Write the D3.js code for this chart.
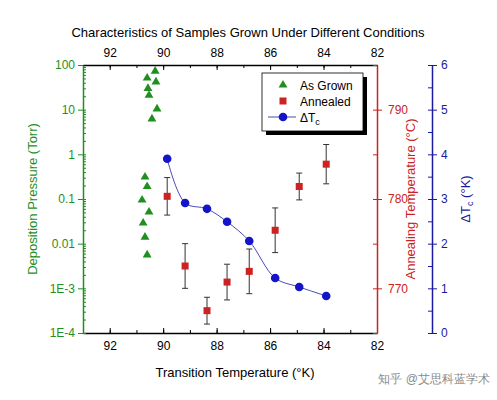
<!DOCTYPE html>
<html><head><meta charset="utf-8">
<script src="https://cdn.jsdelivr.net/npm/d3@7"></script>
<style>body{margin:0;background:#fff}text{font-family:Arial,"Liberation Sans",sans-serif}</style>
</head><body><svg id="c" width="497" height="400"></svg>
<script>
const grownT=[90.30,90.60,90.27,90.57,90.53,90.23,90.42,90.68,90.60,90.79,90.53,90.75,90.68,90.60];
const grownP=[73,51,42,30,21,10.4,6.2,0.31,0.19,0.095,0.051,0.029,0.014,0.0056];
const annT=[89.85,89.18,88.36,87.61,86.78,85.81,84.91,83.90];
const annV=[780.3,772.5,767.5,770.7,771.9,776.5,781.4,783.9];
const annErr=[2.1,2.5,1.5,2.0,2.5,2.5,1.5,2.2];
const dT=[3.90,2.91,2.78,2.49,2.06,1.23,1.03,0.83];
const xTicks=[92,90,88,86,84,82];
const pTicks=[100,10,1,0.1,0.01,0.001,0.0001];
const pLabels=["100","10","1","0.1","0.01","1E-3","1E-4"];
const aTicks=[770,780,790];
const dTicks=[0,1,2,3,4,5,6];

const svg=d3.select("#c");
const L=83,R=377,T=65,B=333;
const G="#1f8f1f",RD="#cc2222",BL="#1a1aa0";
const x=d3.scaleLinear().domain([93,82]).range([L,R]);
const yP=d3.scaleLog().domain([1e-4,100]).range([B,T]);
const yA=d3.scaleLinear().domain([765,795]).range([B,T]);
const yD=d3.scaleLinear().domain([0,6]).range([B,T]);

svg.append("text").attr("x",248).attr("y",37).attr("text-anchor","middle").attr("font-size",13).text("Characteristics of Samples Grown Under Different Conditions");

const xb=svg.append("g").attr("transform",`translate(0,${B})`).call(d3.axisBottom(x).tickValues(xTicks).tickSize(5).tickSizeOuter(0));
const xt=svg.append("g").attr("transform",`translate(0,${T})`).call(d3.axisTop(x).tickValues(xTicks).tickSize(5).tickSizeOuter(0));
[xb,xt].forEach(g=>{g.selectAll("text").attr("font-size",12);g.select(".domain").attr("stroke-width",1.5);
 g.selectAll(".tick line").attr("transform",g===xb?"translate(0,-5)":"translate(0,5)");});
svg.append("g").attr("transform",`translate(0,${B})`).call(d3.axisBottom(x).tickValues(d3.range(93,82,-1)).tickSize(3).tickFormat("")).call(g=>{g.select(".domain").remove();g.selectAll("line").attr("transform","translate(0,-3)")});
svg.append("g").attr("transform",`translate(0,${T})`).call(d3.axisTop(x).tickValues(d3.range(93,82,-1)).tickSize(3).tickFormat("")).call(g=>{g.select(".domain").remove();g.selectAll("line").attr("transform","translate(0,3)")});

const minorP=[];for(let e=-4;e<2;e++)for(let k=1;k<10;k++)minorP.push(k*Math.pow(10,e));
const gl=svg.append("g").attr("transform",`translate(${L},0)`).call(d3.axisLeft(yP).tickValues(pTicks).tickFormat((d,i)=>pLabels[i]).tickSize(5).tickSizeOuter(0));
svg.append("g").attr("transform",`translate(${L},0)`).call(d3.axisRight(yP).tickValues(minorP).tickSize(3).tickFormat("")).call(g=>g.select(".domain").remove()).selectAll("line").attr("stroke",G);
gl.selectAll("text").attr("fill",G).attr("font-size",12);gl.selectAll("line").attr("stroke",G);gl.select(".domain").attr("stroke",G).attr("stroke-width",1.5);

const ga=svg.append("g").attr("transform",`translate(${R},0)`).call(d3.axisRight(yA).tickValues(aTicks).tickSize(5).tickSizeOuter(0).tickPadding(6));
svg.append("g").attr("transform",`translate(${R},0)`).call(d3.axisLeft(yA).tickValues([765,770,775,780,785,790,795]).tickSize(4).tickFormat("")).call(g=>g.select(".domain").remove()).selectAll("line").attr("stroke",RD);
ga.selectAll("text").attr("fill",RD).attr("font-size",12);ga.selectAll("line").attr("stroke",RD);ga.select(".domain").attr("stroke",RD).attr("stroke-width",1.5);

const DX=432;
const gd=svg.append("g").attr("transform",`translate(${DX},0)`).call(d3.axisRight(yD).tickValues(dTicks).tickFormat(d3.format("d")).tickSize(5).tickSizeOuter(0).tickPadding(4));
svg.append("g").attr("transform",`translate(${DX},0)`).call(d3.axisLeft(yD).tickValues(d3.range(0,6.01,0.5)).tickSize(4).tickFormat("")).call(g=>g.select(".domain").remove()).selectAll("line").attr("stroke",BL);
gd.selectAll("text").attr("fill",BL).attr("font-size",12);gd.selectAll("line").attr("stroke",BL);gd.select(".domain").attr("stroke",BL).attr("stroke-width",1.5);

svg.append("text").attr("x",(L+R)/2+5).attr("y",377).attr("text-anchor","middle").attr("font-size",13).text("Transition Temperature (°K)");
svg.append("text").attr("transform",`translate(37,${(T+B)/2}) rotate(-90)`).attr("text-anchor","middle").attr("font-size",13).attr("fill",G).text("Deposition Pressure (Torr)");
svg.append("text").attr("transform",`translate(415,${(T+B)/2}) rotate(-90)`).attr("text-anchor","middle").attr("font-size",13).attr("fill",RD).text("Annealing Temperature (°C)");
const dtt=svg.append("text").attr("transform",`translate(470,${(T+B)/2}) rotate(-90)`).attr("text-anchor","middle").attr("font-size",13).attr("fill",BL);
dtt.append("tspan").text("ΔT");dtt.append("tspan").attr("font-size",9).attr("dy",3).text("c");dtt.append("tspan").attr("dy",-3).text(" (°K)");

const tri=d3.symbol().type(d3.symbolTriangle).size(34);
svg.append("g").selectAll("path").data(grownT).join("path").attr("d",tri).attr("fill",G)
 .attr("transform",(d,i)=>`translate(${x(d)},${yP(grownP[i])})`);

const eb=svg.append("g").attr("stroke","#333").attr("stroke-width",1);
annT.forEach((t,i)=>{const cx=x(t),y1=yA(annV[i]-annErr[i]),y2=yA(annV[i]+annErr[i]);
 eb.append("line").attr("x1",cx).attr("x2",cx).attr("y1",y1).attr("y2",y2);
 eb.append("line").attr("x1",cx-3).attr("x2",cx+3).attr("y1",y1).attr("y2",y1);
 eb.append("line").attr("x1",cx-3).attr("x2",cx+3).attr("y1",y2).attr("y2",y2);});
svg.append("g").selectAll("rect").data(annT).join("rect").attr("x",d=>x(d)-3.5).attr("y",(d,i)=>yA(annV[i])-3.5)
 .attr("width",7).attr("height",7).attr("fill",RD);

svg.append("path").datum(annT).attr("fill","none").attr("stroke",BL).attr("stroke-width",0.8)
 .attr("d",d3.line().x(d=>x(d)).y((d,i)=>yD(dT[i])).curve(d3.curveCatmullRom));
svg.append("g").selectAll("circle").data(annT).join("circle").attr("cx",d=>x(d)).attr("cy",(d,i)=>yD(dT[i])).attr("r",4.3).attr("fill","#1414c8");

svg.append("rect").attr("x",266).attr("y",77).attr("width",101).attr("height",58).attr("fill","#000");
svg.append("rect").attr("x",262).attr("y",73).attr("width",101).attr("height",58).attr("fill","#fff").attr("stroke","#000").attr("stroke-width",0.8);
svg.append("path").attr("d",tri).attr("fill",G).attr("transform","translate(283,85)");
svg.append("text").attr("x",300).attr("y",90).attr("font-size",12).text("As Grown");
svg.append("rect").attr("x",279.5).attr("y",97.5).attr("width",7).attr("height",7).attr("fill",RD);
svg.append("text").attr("x",300).attr("y",106).attr("font-size",12).text("Annealed");
svg.append("line").attr("x1",268).attr("x2",296).attr("y1",117).attr("y2",117).attr("stroke",BL).attr("stroke-width",0.8);
svg.append("circle").attr("cx",283).attr("cy",117).attr("r",4.3).attr("fill","#1414c8");
const lt=svg.append("text").attr("x",300).attr("y",122).attr("font-size",12);
lt.append("tspan").text("ΔT");lt.append("tspan").attr("font-size",9).attr("dy",3).text("c");

svg.append("text").attr("x",490).attr("y",383).attr("text-anchor","end").attr("font-size",12).attr("fill","#8a8a8a").attr("font-family","Noto Sans CJK SC").text("知乎 @艾思科蓝学术");
</script></body></html>
